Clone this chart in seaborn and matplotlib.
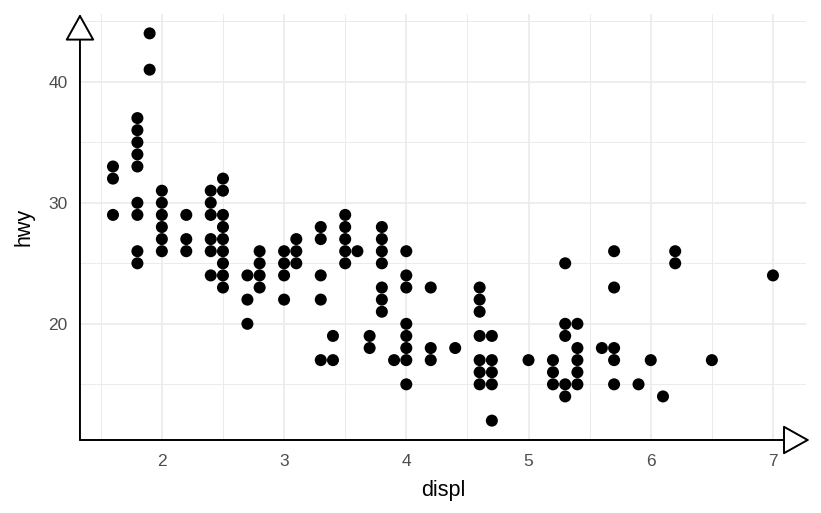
import pandas as pd
import matplotlib.pyplot as plt
import seaborn as sns
from matplotlib.ticker import MultipleLocator

# engine displacement vs highway mileage, one entry per visible dot
displ = [
    1.6, 1.6, 1.6,
    1.8, 1.8, 1.8, 1.8, 1.8, 1.8, 1.8, 1.8, 1.8,
    1.9, 1.9,
    2.0, 2.0, 2.0, 2.0, 2.0, 2.0,
    2.2, 2.2, 2.2,
    2.4, 2.4, 2.4, 2.4, 2.4, 2.4,
    2.5, 2.5, 2.5, 2.5, 2.5, 2.5, 2.5, 2.5, 2.5,
    2.7, 2.7, 2.7,
    2.8, 2.8, 2.8, 2.8,
    3.0, 3.0, 3.0, 3.0,
    3.1, 3.1, 3.1,
    3.3, 3.3, 3.3, 3.3, 3.3,
    3.4, 3.4,
    3.5, 3.5, 3.5, 3.5, 3.5,
    3.6,
    3.7, 3.7,
    3.8, 3.8, 3.8, 3.8, 3.8, 3.8, 3.8,
    3.9,
    4.0, 4.0, 4.0, 4.0, 4.0, 4.0, 4.0, 4.0,
    4.2, 4.2, 4.2,
    4.4,
    4.6, 4.6, 4.6, 4.6, 4.6, 4.6, 4.6,
    4.7, 4.7, 4.7, 4.7, 4.7,
    5.0,
    5.2, 5.2, 5.2,
    5.3, 5.3, 5.3, 5.3, 5.3,
    5.4, 5.4, 5.4, 5.4, 5.4,
    5.6,
    5.7, 5.7, 5.7, 5.7, 5.7,
    5.9, 6.0, 6.1,
    6.2, 6.2,
    6.5, 7.0,
]
hwy = [
    33, 32, 29,
    37, 36, 35, 34, 33, 30, 29, 26, 25,
    44, 41,
    31, 30, 29, 28, 27, 26,
    29, 27, 26,
    31, 30, 29, 27, 26, 24,
    32, 31, 29, 28, 27, 26, 25, 24, 23,
    24, 22, 20,
    26, 25, 24, 23,
    26, 25, 24, 22,
    27, 26, 25,
    28, 27, 24, 22, 17,
    19, 17,
    29, 28, 27, 26, 25,
    26,
    19, 18,
    28, 27, 26, 25, 23, 22, 21,
    17,
    26, 24, 23, 20, 19, 18, 17, 15,
    23, 18, 17,
    18,
    23, 22, 21, 19, 17, 16, 15,
    19, 17, 16, 15, 12,
    17,
    17, 16, 15,
    25, 20, 19, 15, 14,
    20, 18, 17, 16, 15,
    18,
    26, 23, 18, 17, 15,
    15, 17, 14,
    26, 25,
    17, 24,
]

df = pd.DataFrame({"displ": displ, "hwy": hwy})

sns.set_theme(style="white")
plt.rcParams["font.family"] = ["Liberation Sans", "DejaVu Sans"]

fig = plt.figure(figsize=(8.21, 5.13), dpi=100)
ax = fig.add_axes([0.0974, 0.1423, 0.8843, 0.8304])

sns.scatterplot(data=df, x="displ", y="hwy", color="black", s=75,
                edgecolor="none", linewidth=0, ax=ax, zorder=3)

ax.set_xlim(1.33, 7.27)
ax.set_ylim(10.4, 45.6)
ax.xaxis.set_major_locator(MultipleLocator(1))
ax.xaxis.set_minor_locator(MultipleLocator(0.5))
ax.yaxis.set_major_locator(MultipleLocator(10))
ax.yaxis.set_minor_locator(MultipleLocator(5))
ax.grid(which="major", color="#EBEBEB", lw=1.2)
ax.grid(which="minor", color="#EBEBEB", lw=0.7)
ax.set_axisbelow(True)
for s in ax.spines.values():
    s.set_visible(False)
ax.tick_params(which="both", length=0, labelsize=12.5, labelcolor="#4D4D4D")
ax.tick_params(axis="x", pad=10)
ax.tick_params(axis="y", pad=9)

ax.set_xlabel("displ", fontsize=15.5, color="black", labelpad=8)
ax.set_ylabel("hwy", fontsize=15.5, color="black", labelpad=10)

# axis lines with open arrow heads
arrow = dict(arrowstyle="-|>,head_length=1.7,head_width=0.95", mutation_scale=10,
             fc="white", ec="black", lw=1.4, shrinkA=0, shrinkB=0)
ax.annotate("", xy=(1.005, 0), xytext=(0, 0), xycoords="axes fraction",
            arrowprops=arrow, annotation_clip=False, zorder=5)
ax.annotate("", xy=(0, 1.0), xytext=(0, 0), xycoords="axes fraction",
            arrowprops=arrow, annotation_clip=False, zorder=5)

fig.savefig("out.png", dpi=100)
